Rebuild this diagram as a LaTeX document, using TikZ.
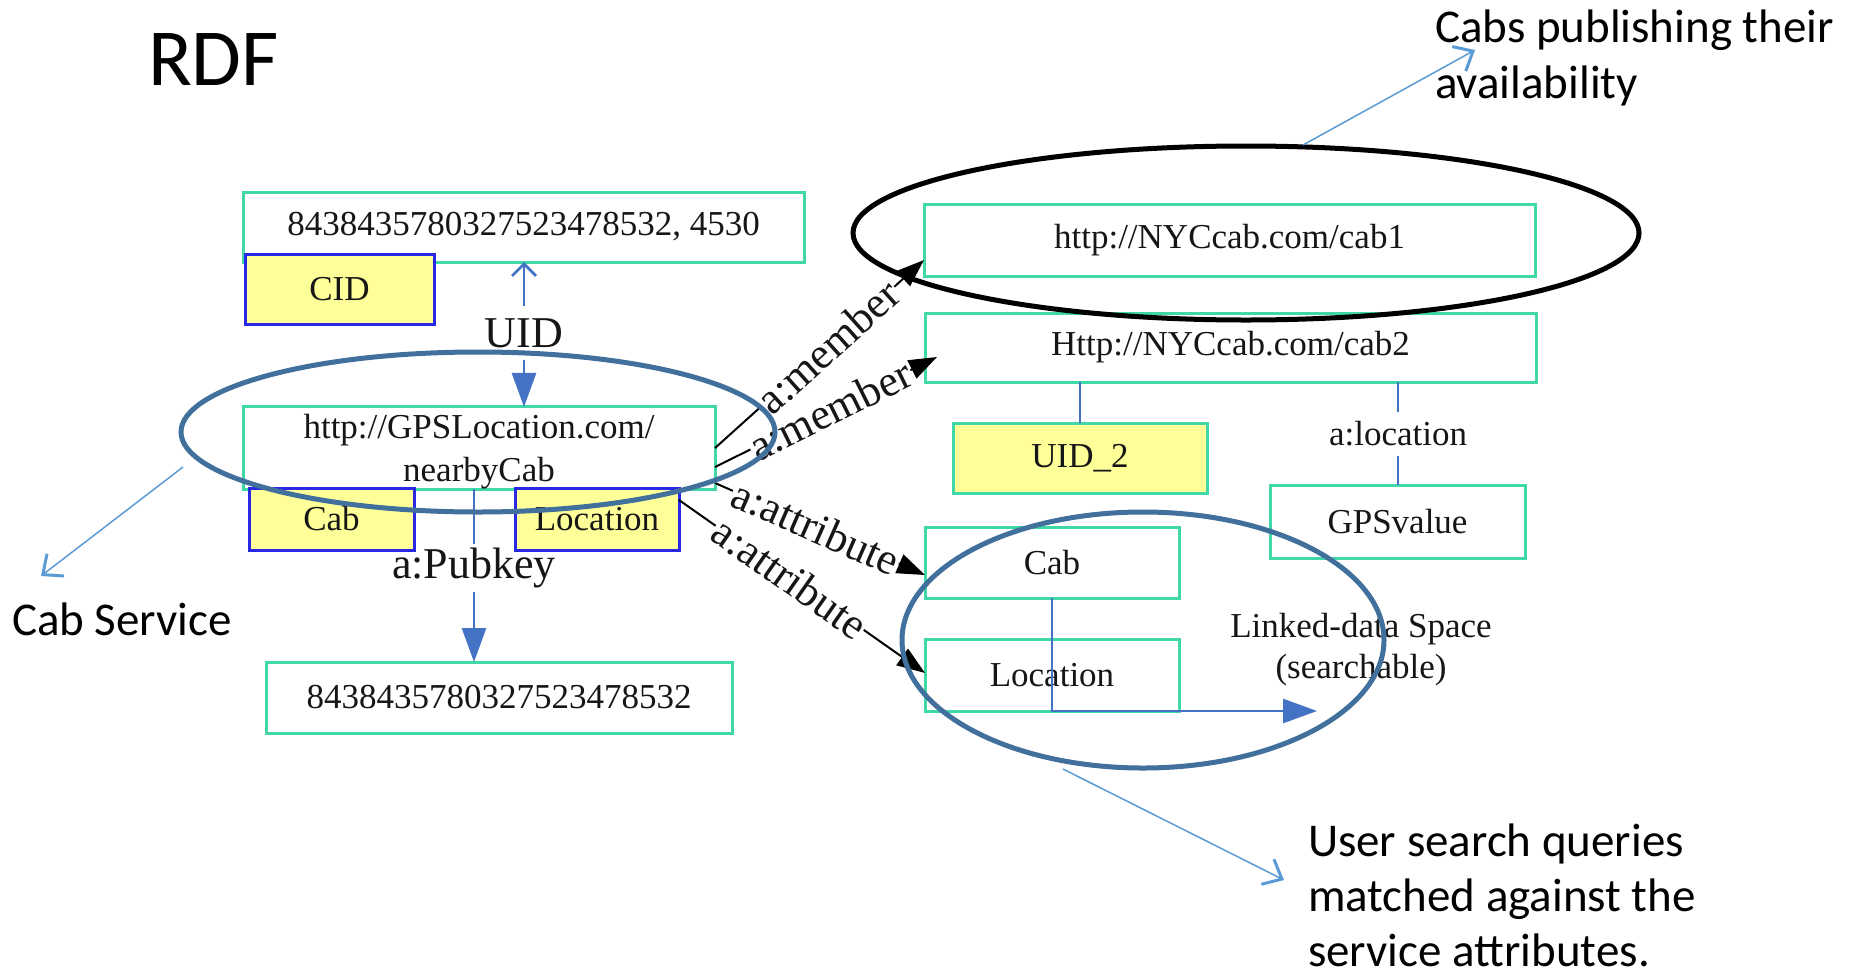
\documentclass[tikz,border=0pt]{standalone}
\usepackage{fontspec}
\setmainfont{Liberation Serif}
\newfontfamily\notefont{Carlito}
\usetikzlibrary{arrows.meta,shapes.geometric}

\definecolor{termgreen}{RGB}{64,216,168}
\definecolor{tagfill}{RGB}{255,255,153}
\definecolor{tagedge}{RGB}{40,40,230}
\definecolor{linkblue}{RGB}{68,114,196}
\definecolor{ringblue}{RGB}{65,112,156}
\definecolor{noteblue}{RGB}{91,155,213}
\definecolor{ink}{RGB}{22,22,22}

\begin{document}
\begin{tikzpicture}[x=0.5pt,y=-0.5pt,
  every node/.style={inner sep=0pt,outer sep=0pt},
  term/.style={draw=termgreen,line width=1.5pt,fill=white,text=ink,
    font=\fontsize{17.5}{20.5}\selectfont,align=center},
  tag/.style={term,draw=tagedge,fill=tagfill},
  idtag/.style={term,fill=tagfill},
  plain/.style={text=ink,font=\fontsize{17.5}{20.5}\selectfont},
  biglabel/.style={text=ink,font=\fontsize{22}{26}\selectfont},
  link/.style={draw=linkblue,line width=1.4pt},
  linkhead/.style={link,-{Triangle[length=17pt,width=12pt]}},
  rel/.style={draw=black,line width=1pt,-{Triangle[length=14pt,width=10pt]}},
  rellabel/.style={sloped,fill=white,inner sep=0.6pt,text=ink,
    font=\fontsize{22}{26}\selectfont},
  ring/.style={ellipse,draw=ringblue,line width=2.5pt},
  note/.style={draw=noteblue,line width=0.75pt,
    -{Straight Barb[length=8pt,width=14pt,line width=1.5pt]}},
  notetext/.style={anchor=base west,text=black,
    font=\notefont\fontsize{23.5}{28}\selectfont},
]
% canvas
\fill[white] (0,0) rectangle (1856,975);
\useasboundingbox (0,0) rectangle (1856,975);

% --- service description (left) ---
\node[term,minimum width=280.5pt,minimum height=35pt] (cidval) at (523.5,227) {8438435780327523478532, 4530};
\node[tag,minimum width=94.5pt,minimum height=35pt] (cid) at (339.5,289) {CID};
\node[term,minimum width=236pt,minimum height=40pt,font=\fontsize{17.5}{21.3}\selectfont] (gps) at (479,448)
  {\rule{0pt}{16pt}http://GPSLocation.com/\\nearbyCab};
\node[tag,minimum width=82.5pt,minimum height=31pt] (cabtag) at (331.5,519) {Cab};
\node[tag,minimum width=82pt,minimum height=31pt] (loctag) at (597,519) {Location};
\node[term,minimum width=233pt,minimum height=35.5pt] (pubval) at (499,697.5) {8438435780327523478532};

% --- linked-data space (right) ---
\node[term,minimum width=305.5pt,minimum height=36pt] (cab1) at (1229.5,240) {http://NYCcab.com/cab1};
\node[term,minimum width=305.5pt,minimum height=34.5pt] (cab2) at (1230.5,347.5) {Http://NYCcab.com/cab2};
\node[idtag,minimum width=127pt,minimum height=35pt] (uid2) at (1080,458) {UID\_2};
\node[term,minimum width=127.5pt,minimum height=36.5pt] (gpsv) at (1397.5,521.5) {GPSvalue};
\node[term,minimum width=127pt,minimum height=35.5pt] (cabattr) at (1052,562.5) {Cab};
\node[term,minimum width=127pt,minimum height=36pt] (locattr) at (1052,675) {Location};

% --- edge labels ---
\node[biglabel,inner ysep=6pt] (uid) at (524,333) {UID};
\node[biglabel,inner ysep=2pt] (pubkey) at (474,568) {a:Pubkey};
\node[plain,inner ysep=5pt] (aloc) at (1398,434) {a:location};
\node[plain,anchor=base] (ld1) at (1361,637) {Linked-data Space};
\node[plain,anchor=base] (ld2) at (1361,678) {(searchable)};

% --- blue links ---
\draw[link,-{Straight Barb[length=6pt,width=12pt]}] (uid.north) -- (uid.north |- cidval.south);
\draw[linkhead] (uid.south) -- (uid.south |- gps.north);
\draw[link] (pubkey.north |- gps.south) -- (pubkey.north);
\draw[linkhead] (pubkey.south) -- (pubkey.south |- pubval.north);
\draw[link] (uid2.north |- cab2.south) -- (uid2.north);
\draw[link] (aloc.north |- cab2.south) -- (aloc.north);
\draw[link] (aloc.south) -- (aloc.south |- gpsv.north);
\coordinate (ldend) at (1317,711);
\draw[linkhead] (cabattr.south) |- (ldend);

% --- RDF relations ---
\draw[rel] (gps.east) -- ([yshift=-10pt]cab1.west)
  node[rellabel,pos=0.54] {a:member};
\draw[rel] ([yshift=-9.5pt]gps.east) -- ([xshift=6pt,yshift=-4.75pt]cab2.west)
  node[rellabel,pos=0.52] {a:member};
\draw[rel] ([yshift=-17.5pt]gps.east) -- ([yshift=-6.25pt]cabattr.west)
  node[rellabel,pos=0.48] {a:attribute};
\draw[rel] ([yshift=9.5pt]loctag.east) -- ([yshift=1pt]locattr.west)
  node[rellabel,pos=0.45] {a:attribute};

% --- highlight rings ---
\node[ring,minimum width=297pt,minimum height=80pt] (svcring) at (478,432) {};
\node[ring,draw=black,minimum width=393pt,minimum height=87pt] (pubring) at (1246,233) {};
\node[ring,minimum width=241pt,minimum height=128pt] (searchring) at (1143,640) {};

% --- annotations ---
\node[anchor=base west,text=black,font=\notefont\fontsize{40.5}{48}\selectfont] (rdf) at (148,85) {RDF};
\node[notetext] (svc) at (12,635) {Cab Service};
\node[notetext] (pub1) at (1435,42) {Cabs publishing their};
\node[notetext] (pub2) at (1435,98) {availability};
\node[notetext] (q1) at (1308,856) {User search queries};
\node[notetext] (q2) at (1308,911) {matched against the};
\node[notetext] (q3) at (1308,966) {service attributes.};

\coordinate (svcfrom) at (183,467);
\coordinate (svcto) at (41,576);
\coordinate (pubfrom) at (1303,145);
\coordinate (pubto) at (1475,50);
\coordinate (qfrom) at (1063,769);
\coordinate (qto) at (1284,880);
\draw[note] (svcfrom) -- (svcto);
\draw[note] (pubfrom) -- (pubto);
\draw[note] (qfrom) -- (qto);
\end{tikzpicture}
\end{document}
